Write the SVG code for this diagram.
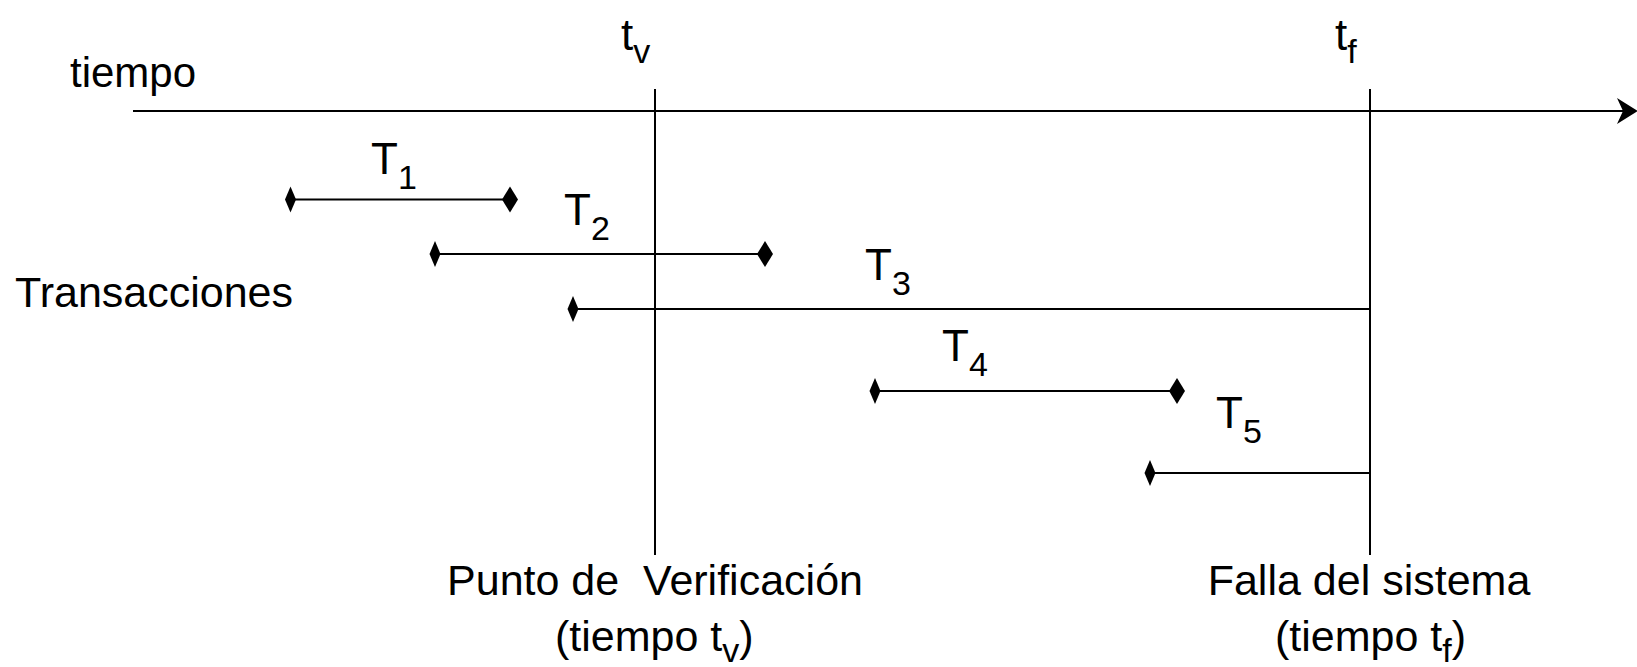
<svg xmlns="http://www.w3.org/2000/svg" width="1637" height="667" viewBox="0 0 1637 667">
<style>
.ln{stroke:#000;stroke-width:2;fill:none}
.tx{font-family:"Liberation Sans",Arial,sans-serif;font-size:43px;fill:#000}
.tl{font-family:"Liberation Sans",Arial,sans-serif;font-size:44px;fill:#000}
.sb{font-size:34px}
</style>
<defs>
<marker id="dS" markerUnits="userSpaceOnUse" markerWidth="12" markerHeight="27" refX="5.5" refY="13" orient="auto" overflow="visible">
<path d="M0,13 L5.5,0 L11,13 L5.5,26 Z" fill="#000"/>
</marker>
<marker id="dL" markerUnits="userSpaceOnUse" markerWidth="17" markerHeight="27" refX="8" refY="13" orient="auto" overflow="visible">
<path d="M0,13 L8,0 L16,13 L8,26 Z" fill="#000"/>
</marker>
</defs>
<rect width="1637" height="667" fill="#fff"/>
<g id="connectors">
<line class="ln" x1="133" y1="111" x2="1626" y2="111"/>
<path d="M1638,111 L1617,98 L1623,111 L1617,124 Z" fill="#000"/>
<line class="ln" x1="655" y1="89" x2="655" y2="555"/>
<line class="ln" x1="1370" y1="89" x2="1370" y2="555"/>
<line class="ln" x1="290.5" y1="199.5" x2="510" y2="199.5" marker-start="url(#dS)" marker-end="url(#dL)"/>
<line class="ln" x1="435" y1="254" x2="765" y2="254" marker-start="url(#dS)" marker-end="url(#dL)"/>
<line class="ln" x1="573" y1="309" x2="1370" y2="309" marker-start="url(#dS)"/>
<line class="ln" x1="875" y1="391" x2="1177" y2="391" marker-start="url(#dS)" marker-end="url(#dL)"/>
<line class="ln" x1="1150" y1="473" x2="1370" y2="473" marker-start="url(#dS)"/>
</g>
<g id="label-tiempo"><text class="tx" x="70" y="87" style="font-size:42px">tiempo</text></g>
<g id="label-transacciones"><text class="tx" x="15" y="307">Transacciones</text></g>
<g id="label-tv"><text class="tl" x="621" y="50">t<tspan class="sb" dy="13">v</tspan></text></g>
<g id="label-tf"><text class="tl" x="1335" y="50">t<tspan class="sb" dy="13">f</tspan></text></g>
<g id="T1"><text class="tl" x="371" y="174">T<tspan class="sb" dy="15">1</tspan></text></g>
<g id="T2"><text class="tl" x="564" y="225">T<tspan class="sb" dy="15">2</tspan></text></g>
<g id="T3"><text class="tl" x="865" y="280">T<tspan class="sb" dy="15">3</tspan></text></g>
<g id="T4"><text class="tl" x="942" y="361">T<tspan class="sb" dy="15">4</tspan></text></g>
<g id="T5"><text class="tl" x="1216" y="428">T<tspan class="sb" dy="15">5</tspan></text></g>
<g id="label-verificacion">
<text class="tx" x="655" y="595" text-anchor="middle" xml:space="preserve">Punto de  Verificación</text>
<text class="tx" x="555" y="651">(tiempo t<tspan class="sb" dy="11">v</tspan><tspan dy="-11">)</tspan></text>
</g>
<g id="label-falla">
<text class="tx" x="1369" y="595" text-anchor="middle">Falla del sistema</text>
<text class="tx" x="1275" y="651">(tiempo t<tspan class="sb" dy="11">f</tspan><tspan dy="-11">)</tspan></text>
</g>
</svg>
